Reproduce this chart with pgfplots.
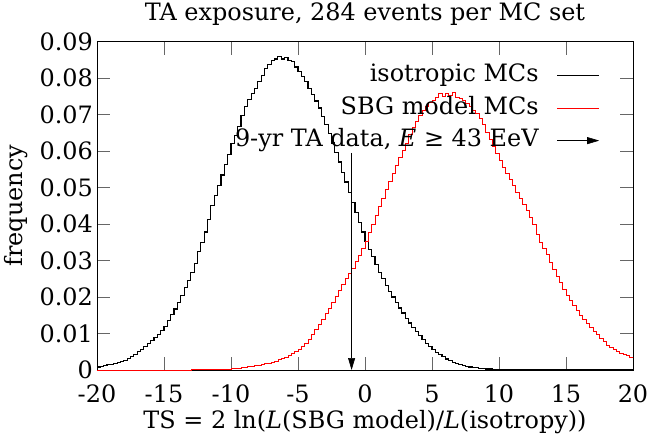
\documentclass[border=0pt]{standalone}
\usepackage{fontspec}
\setmainfont{DejaVu Serif}
\usepackage{pgfplots}
\pgfplotsset{compat=1.18}
\usetikzlibrary{arrows.meta}

\pgfplotstableread{
x y
-20.00 0.0008
-19.75 0.0010
-19.50 0.0012
-19.25 0.0014
-19.00 0.0016
-18.75 0.0018
-18.50 0.0020
-18.25 0.0024
-18.00 0.0027
-17.75 0.0032
-17.50 0.0037
-17.25 0.0043
-17.00 0.0050
-16.75 0.0057
-16.50 0.0064
-16.25 0.0072
-16.00 0.0080
-15.75 0.0088
-15.50 0.0097
-15.25 0.0108
-15.00 0.0120
-14.75 0.0135
-14.50 0.0152
-14.25 0.0167
-14.00 0.0185
-13.75 0.0204
-13.50 0.0225
-13.25 0.0246
-13.00 0.0268
-12.75 0.0292
-12.50 0.0325
-12.25 0.0350
-12.00 0.0378
-11.75 0.0412
-11.50 0.0450
-11.25 0.0477
-11.00 0.0505
-10.75 0.0534
-10.50 0.0562
-10.25 0.0590
-10.00 0.0620
-9.75 0.0643
-9.50 0.0668
-9.25 0.0697
-9.00 0.0722
-8.75 0.0741
-8.50 0.0758
-8.25 0.0772
-8.00 0.0790
-7.75 0.0806
-7.50 0.0825
-7.25 0.0838
-7.00 0.0848
-6.75 0.0852
-6.50 0.0858
-6.25 0.0852
-6.00 0.0856
-5.75 0.0849
-5.50 0.0846
-5.25 0.0830
-5.00 0.0818
-4.75 0.0804
-4.50 0.0790
-4.25 0.0772
-4.00 0.0755
-3.75 0.0737
-3.50 0.0718
-3.25 0.0695
-3.00 0.0672
-2.75 0.0648
-2.50 0.0622
-2.25 0.0596
-2.00 0.0570
-1.75 0.0542
-1.50 0.0515
-1.25 0.0487
-1.00 0.0460
-0.75 0.0432
-0.50 0.0405
-0.25 0.0378
0.00 0.0352
0.25 0.0330
0.50 0.0310
0.75 0.0288
1.00 0.0268
1.25 0.0250
1.50 0.0232
1.75 0.0215
2.00 0.0200
2.25 0.0185
2.50 0.0170
2.75 0.0156
3.00 0.0142
3.25 0.0129
3.50 0.0117
3.75 0.0105
4.00 0.0094
4.25 0.0083
4.50 0.0073
4.75 0.0065
5.00 0.0057
5.25 0.0049
5.50 0.0042
5.75 0.0036
6.00 0.0030
6.25 0.0025
6.50 0.0021
6.75 0.0018
7.00 0.0015
7.25 0.0012
7.50 0.0010
7.75 0.0008
8.00 0.0007
8.25 0.0006
8.50 0.0005
8.75 0.0004
9.00 0.0003
9.50 0.0002
10.00 0.0001
12.00 0.0000
20.00 0.0000
}\isotropic

\pgfplotstableread{
x y
-20.00 0.0000
-13.00 0.0001
-11.00 0.0002
-10.50 0.0003
-10.00 0.0004
-9.75 0.0005
-9.50 0.0006
-9.25 0.0007
-9.00 0.0008
-8.75 0.0009
-8.50 0.0010
-8.25 0.0012
-8.00 0.0013
-7.75 0.0015
-7.50 0.0017
-7.25 0.0019
-7.00 0.0022
-6.75 0.0025
-6.50 0.0029
-6.25 0.0032
-6.00 0.0036
-5.75 0.0040
-5.50 0.0045
-5.25 0.0051
-5.00 0.0057
-4.75 0.0064
-4.50 0.0072
-4.25 0.0085
-4.00 0.0098
-3.75 0.0111
-3.50 0.0125
-3.25 0.0140
-3.00 0.0155
-2.75 0.0170
-2.50 0.0185
-2.25 0.0202
-2.00 0.0218
-1.75 0.0234
-1.50 0.0250
-1.25 0.0265
-1.00 0.0280
-0.75 0.0298
-0.50 0.0315
-0.25 0.0333
0.00 0.0352
0.25 0.0376
0.50 0.0400
0.75 0.0424
1.00 0.0448
1.25 0.0471
1.50 0.0495
1.75 0.0518
2.00 0.0540
2.25 0.0562
2.50 0.0583
2.75 0.0602
3.00 0.0622
3.25 0.0645
3.50 0.0665
3.75 0.0682
4.00 0.0698
4.25 0.0712
4.50 0.0722
4.75 0.0733
5.00 0.0740
5.25 0.0748
5.50 0.0758
5.75 0.0750
6.00 0.0758
6.25 0.0752
6.50 0.0760
6.75 0.0748
7.00 0.0745
7.25 0.0740
7.50 0.0730
7.75 0.0722
8.00 0.0712
8.25 0.0703
8.50 0.0690
8.75 0.0672
9.00 0.0652
9.25 0.0632
9.50 0.0612
9.75 0.0594
10.00 0.0575
10.25 0.0556
10.50 0.0538
10.75 0.0522
11.00 0.0505
11.25 0.0487
11.50 0.0470
11.75 0.0453
12.00 0.0437
12.25 0.0418
12.50 0.0398
12.75 0.0372
13.00 0.0350
13.25 0.0334
13.50 0.0318
13.75 0.0296
14.00 0.0275
14.25 0.0257
14.50 0.0240
14.75 0.0222
15.00 0.0205
15.25 0.0192
15.50 0.0178
15.75 0.0164
16.00 0.0150
16.25 0.0138
16.50 0.0127
16.75 0.0116
17.00 0.0106
17.25 0.0097
17.50 0.0088
17.75 0.0078
18.00 0.0068
18.25 0.0062
18.50 0.0057
18.75 0.0052
19.00 0.0047
19.25 0.0043
19.50 0.0040
19.75 0.0036
20.00 0.0033
}\sbg

\begin{document}
\begin{tikzpicture}[font=\fontsize{24}{28}\selectfont]
\begin{axis}[
    scale only axis,
    width=536bp,
    height=328.5bp,
    xmin=-20, xmax=20,
    ymin=0, ymax=0.09,
    scaled y ticks=false,
    xtick={-20,-15,...,20},
    xticklabels={-20,-15,-10,-5,0,5,10,15,20},
    ytick={0,0.01,...,0.09},
    yticklabels={0,0.01,0.02,0.03,0.04,0.05,0.06,0.07,0.08,0.09},
    tick align=inside,
    major tick length=13bp,
    every tick/.style={black!60, line width=0.8pt},
    axis line style={line width=0.8pt},
    title={TA exposure, 284 events per MC set},
    title style={at={(axis description cs:0.5,1)}, anchor=base, yshift=15.5bp},
    xlabel={TS = 2 ln(\textit{L}(SBG model)/\textit{L}(isotropy))},
    xlabel style={at={(axis description cs:0.5,0)}, anchor=base, yshift=-58bp},
    ylabel={frequency},
    ylabel style={at={(axis description cs:0,0.5)}, anchor=base, yshift=74bp},
    xticklabel style={inner sep=1bp, yshift=-14bp},
    yticklabel style={inner sep=1bp, xshift=-3bp},
    legend plot pos=right,
    legend cell align=right,
    legend style={at={(rel axis cs:0.9384,0.931)}, anchor=north east,
        draw=none, fill=none, inner sep=0pt, row sep=10bp, column sep=18bp,
        nodes={inner sep=0pt, text height=17.5bp, text depth=5bp},
        font=\fontsize{24}{28}\selectfont},
    legend image code/.code={\draw[#1] (0bp,0bp) -- (42bp,0bp);},
]
\addplot[const plot, black, line width=1.2pt] table[x=x, y=y] {\isotropic};
\addlegendentry{isotropic MCs}
\addplot[const plot, red, line width=0.6pt] table[x=x, y=y] {\sbg};
\addlegendentry{SBG model MCs}
\addplot[black, line width=0.6pt, -{Triangle[length=12bp,width=7bp]},
    legend image code/.code={\draw[black, line width=0.6pt, -{Triangle[length=12bp,width=7bp]}] (0bp,0bp) -- (42bp,0bp);}]
    coordinates {(-1,0.0595) (-1,0)};
\addlegendentry{9-yr TA data, \textit{E} ≥ 43 EeV}
\end{axis}
\pgfresetboundingbox
\path[use as bounding box] ([shift={(-97bp,-66bp)}]current axis.south west) rectangle ([shift={(18bp,41.5bp)}]current axis.north east);
\end{tikzpicture}
\end{document}
